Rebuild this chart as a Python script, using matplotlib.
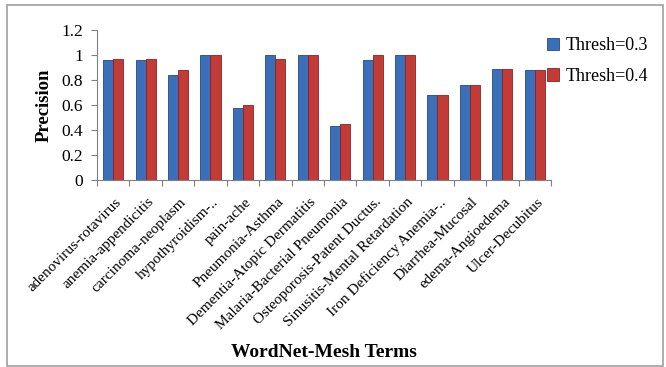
import matplotlib
matplotlib.use("Agg")
import matplotlib.pyplot as plt
from matplotlib.patches import Rectangle
import numpy as np

categories = [
    "adenovirus-rotavirus", "anemia-appendicitis", "carcinoma-neoplasm",
    "hypothyroidism-..", "pain-ache", "Pneumonia-Asthma",
    "Dementia-Atopic Dermatitis", "Malaria-Bacterial Pneumonia",
    "Osteoporosis-Patent Ductus.", "Sinusitis-Mental Retardation",
    "Iron Deficiency Anemia-..", "Diarrhea-Mucosal", "edema-Angioedema",
    "Ulcer-Decubitus",
]
thresh_03 = [0.96, 0.96, 0.84, 1.00, 0.58, 1.00, 1.00, 0.43, 0.96, 1.00, 0.68, 0.76, 0.89, 0.88]
thresh_04 = [0.97, 0.97, 0.88, 1.00, 0.60, 0.97, 1.00, 0.45, 1.00, 1.00, 0.68, 0.76, 0.89, 0.88]
series_names = ["Thresh=0.3", "Thresh=0.4"]
y_ticks = [0, 0.2, 0.4, 0.6, 0.8, 1, 1.2]
y_tick_labels = ["0", "0.2", "0.4", "0.6", "0.8", "1", "1.2"]

plt.rcParams["font.family"] = ["Liberation Serif", "DejaVu Serif"]

fig = plt.figure(figsize=(6.66, 3.67), dpi=100)
fig.patch.set_facecolor("white")
ax = fig.add_axes([0.1456, 0.5095, 0.6817, 0.4087])

x = np.arange(len(categories))
w = 0.31
blue, red = "#3C6FBA", "#C23B36"
ax.bar(x - w / 2, thresh_03, w, color=blue, edgecolor="#1F4A86", linewidth=0.6,
       label=series_names[0])
ax.bar(x + w / 2, thresh_04, w, color=red, edgecolor="#8A2222", linewidth=0.6,
       label=series_names[1])

ax.set_xlim(-0.5, len(categories) - 0.5)
ax.set_ylim(0, 1.2)
ax.set_yticks(y_ticks)
ax.set_yticklabels(y_tick_labels, fontsize=12.5)

ax.set_xticks(np.arange(len(categories) + 1) - 0.5)
ax.set_xticklabels([])
ax.set_xticks(x + 0.05, minor=True)
ax.set_xticklabels(categories, minor=True, rotation=45, ha="right",
                   rotation_mode="anchor", fontsize=11)
ax.tick_params(axis="x", which="minor", length=0, pad=11)
ax.tick_params(axis="x", which="major", length=4, color="#808080")
ax.tick_params(axis="y", length=4, color="#808080", pad=6)

for side in ("top", "right"):
    ax.spines[side].set_visible(False)
for side in ("left", "bottom"):
    ax.spines[side].set_color("#808080")

ax.set_ylabel("Precision", fontsize=13.5, fontweight="bold", labelpad=6)
fig.text(0.4865, 0.04, "WordNet-Mesh Terms", ha="center", va="center",
         fontsize=14, fontweight="bold")

leg = ax.legend(loc="upper left", bbox_to_anchor=(0.975, 1.0), frameon=False,
                fontsize=13, handlelength=0.7, handleheight=0.7,
                handletextpad=0.35, labelspacing=0.75, borderaxespad=0.0)

fig.patches.append(Rectangle((0.011, 0.003), 0.984, 0.983, transform=fig.transFigure,
                             fill=False, edgecolor="#A0A0A0", linewidth=1.2))

fig.savefig("out.png", dpi=100, facecolor="white")
